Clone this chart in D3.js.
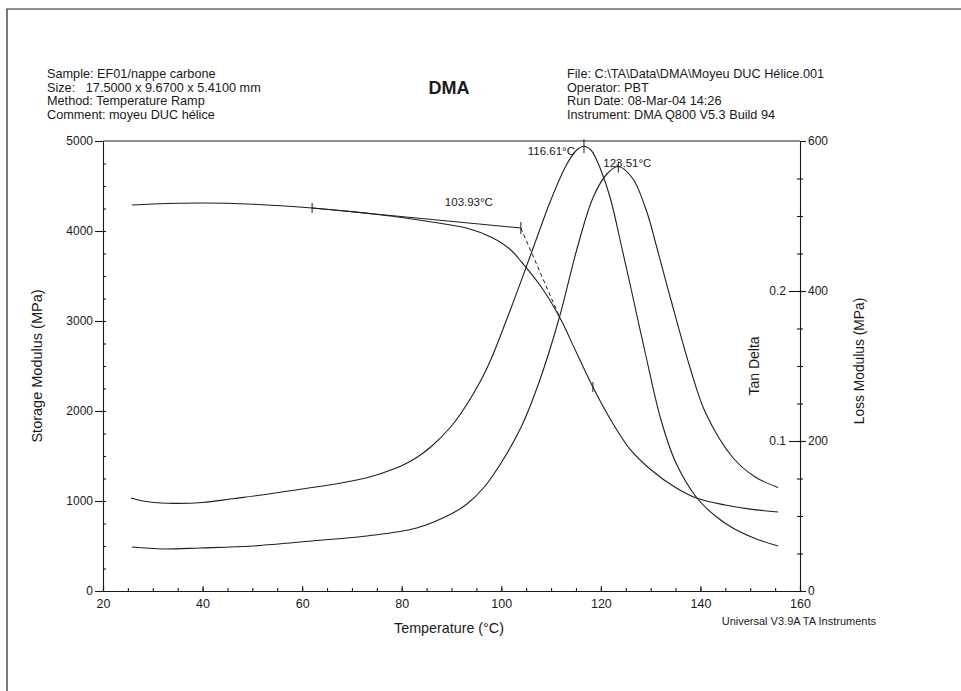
<!DOCTYPE html>
<html>
<head>
<meta charset="utf-8">
<script src="https://cdn.jsdelivr.net/npm/d3@7"></script>
<style>
  body { margin: 0; background: #fff; }
  svg { display: block; }
</style>
</head>
<body>
<div id="plot"></div>
<script>
// Width and height
const w = 961;
const h = 691;
const margin = {top: 141, right: 161, bottom: 100, left: 103};
const innerWidth = w - margin.left - margin.right;
const innerHeight = h - margin.top - margin.bottom;
const font = "Liberation Sans, Arial, sans-serif";
const ink = "#1a1a1a";

// header texts
const headerLeft = [
  "Sample: EF01/nappe carbone",
  "Size:   17.5000 x 9.6700 x 5.4100 mm",
  "Method: Temperature Ramp",
  "Comment: moyeu DUC h\u00e9lice"
];
const headerRight = [
  "File: C:\\TA\\Data\\DMA\\Moyeu DUC H\u00e9lice.001",
  "Operator: PBT",
  "Run Date: 08-Mar-04 14:26",
  "Instrument: DMA Q800 V5.3 Build 94"
];

// tick values
const tempTicks = [20, 40, 60, 80, 100, 120, 140, 160];
const storageTicks = [0, 1000, 2000, 3000, 4000, 5000];
const lossTicks = [0, 200, 400, 600];
const tanTicks = [0.1, 0.2];

// storage modulus (MPa) vs temperature (°C)
const storageT = [25.8, 30, 40, 50, 62, 70, 76, 80, 86, 93, 98, 101.7, 104, 108, 111.8, 115, 118.4, 122, 125.8, 130, 135, 139.3, 145, 150, 155.6];
const storageE = [4289, 4300, 4311, 4298, 4256, 4215, 4178, 4150, 4100, 4033, 3930, 3800, 3660, 3380, 3033, 2660, 2267, 1900, 1580, 1350, 1150, 1030, 955, 910, 878];

// loss modulus (MPa)
const lossT = [25.6, 28, 33, 40, 46, 53, 60, 67, 73, 76, 80, 83, 86, 90, 93, 96, 98, 102, 106, 110, 113, 115, 116.61, 118, 119.2, 121.8, 124.2, 126, 129, 132, 135, 139.3, 143, 146.5, 151, 155.6];
const lossE = [124, 120, 117, 118, 123, 129, 136, 143, 151, 157, 167, 178, 193, 220, 248, 282, 310, 378, 450, 522, 567, 587, 593, 588, 574, 526, 458, 405, 315, 230, 172, 124, 100, 84, 70, 60];

// tan delta
const tanT = [25.8, 32, 39.5, 50, 59.6, 66, 73, 83, 89.7, 93.1, 96.5, 99.7, 103.8, 106, 108.5, 111.8, 115.2, 118.4, 121.2, 123.51, 126.4, 129.3, 131, 134, 137.9, 141, 146.5, 151, 155.6];
const tanD = [0.0293, 0.028, 0.0287, 0.030, 0.0327, 0.0345, 0.0367, 0.042, 0.051, 0.058, 0.069, 0.084, 0.108, 0.125, 0.148, 0.184, 0.228, 0.262, 0.278, 0.283, 0.275, 0.252, 0.232, 0.195, 0.149, 0.119, 0.089, 0.076, 0.069];

// onset analysis on storage modulus
const onsetBase = [[62, 4256], [103.93, 4033]];
const onsetSteep = [[103.93, 4033], [111.8, 3033]];
const storageMarks = [62, 118.4];
const onsetLabel = "103.93\u00b0C";
const lossPeak = [116.61, 593];
const tanPeak = [123.51, 0.283];

// create SVG element
const svg = d3.select("div#plot")
  .append("svg")
    .attr("width", w)
    .attr("height", h)
    .attr("font-family", font);

svg.append("rect")
  .attr("width", w)
  .attr("height", h)
  .attr("fill", "#ffffff");

// page frame (top and left edges of the sheet)
svg.append("path")
  .attr("d", `M7,${h} V9 H${w}`)
  .attr("fill", "none")
  .attr("stroke", "#222")
  .attr("stroke-width", 1.2);

// header
svg.selectAll("text.hl")
  .data(headerLeft)
  .enter()
  .append("text")
    .attr("class", "hl")
    .attr("x", 47)
    .attr("y", (d, i) => 78 + i * 13.6)
    .attr("font-size", 12.7)
    .attr("fill", ink)
    .attr("xml:space", "preserve")
    .style("white-space", "pre")
    .text(d => d);

svg.selectAll("text.hr")
  .data(headerRight)
  .enter()
  .append("text")
    .attr("class", "hr")
    .attr("x", 567)
    .attr("y", (d, i) => 78 + i * 13.6)
    .attr("font-size", 12.7)
    .attr("fill", ink)
    .text(d => d);

svg.append("text")
  .attr("x", 449)
  .attr("y", 94)
  .attr("text-anchor", "middle")
  .attr("font-size", 18)
  .attr("font-weight", "bold")
  .attr("fill", ink)
  .text("DMA");

// scales
const xScale = d3.scaleLinear()
  .domain([20, 160])
  .range([0, innerWidth]);

const yStorage = d3.scaleLinear()
  .domain([0, 5000])
  .range([innerHeight, 0]);

const yLoss = d3.scaleLinear()
  .domain([0, 600])
  .range([innerHeight, 0]);

const yTan = d3.scaleLinear()
  .domain([0, 0.3])
  .range([innerHeight, 0]);

// create plot group
const plot = svg.append("g")
  .attr("id", "plot")
  .attr("transform", `translate(${margin.left},${margin.top})`);

// frame top edge
plot.append("line")
  .attr("x1", 0).attr("x2", innerWidth)
  .attr("y1", 0).attr("y2", 0)
  .attr("stroke", "#222")
  .attr("stroke-width", 1.2);

// x-axis
const xAxis = d3.axisBottom(xScale)
  .tickValues(tempTicks)
  .tickSize(-5)
  .tickPadding(8)
  .tickFormat(d3.format("d"));

plot.append("g")
  .attr("id", "xaxis")
  .attr("transform", `translate(0,${innerHeight})`)
  .call(xAxis)
  .attr("font-size", 12.5);

plot.append("g")
  .attr("class", "minor")
  .attr("transform", `translate(0,${innerHeight})`)
  .call(d3.axisBottom(xScale).tickValues(d3.range(25, 160, 5)).tickSize(-3).tickFormat(""));

// left axis
plot.append("g")
  .attr("id", "yaxis")
  .call(d3.axisLeft(yStorage).tickValues(storageTicks).tickSize(8).tickPadding(2).tickFormat(d3.format("d")))
  .attr("font-size", 12);

plot.append("g")
  .attr("class", "minor")
  .call(d3.axisLeft(yStorage).tickValues(d3.range(250, 5000, 250)).tickSize(-3).tickFormat(""));

// right axes
const right = plot.append("g")
  .attr("transform", `translate(${innerWidth},0)`);

right.append("g")
  .attr("id", "lossaxis")
  .call(d3.axisRight(yLoss).tickValues(lossTicks).tickSize(6).tickPadding(2).tickFormat(d3.format("d")))
  .attr("font-size", 12);

right.append("g")
  .attr("id", "tanaxis")
  .call(d3.axisLeft(yTan).tickValues(tanTicks).tickSize(11).tickPadding(3).tickFormat(d3.format(".1f")))
  .attr("font-size", 12);

right.append("g")
  .attr("class", "minor")
  .call(d3.axisRight(yLoss).tickValues(d3.range(50, 600, 50)).tickSize(3).tickFormat(""));
right.append("g")
  .attr("class", "minor")
  .call(d3.axisLeft(yLoss).tickValues(d3.range(50, 600, 50)).tickSize(3).tickFormat(""));

plot.selectAll("g").attr("font-family", null);
plot.selectAll(".minor .domain").remove();
plot.selectAll(".domain, .tick line")
  .attr("stroke", ink)
  .attr("stroke-width", 1.1);
plot.selectAll("#tanaxis .domain").remove();
plot.selectAll(".tick text")
  .attr("fill", ink);

// curves
const curve = (xs, ys, yS) => d3.line()
  .x((d, i) => xScale(xs[i]))
  .y((d, i) => yS(ys[i]))
  .curve(d3.curveCatmullRom.alpha(0.5))(xs);

plot.append("path")
  .attr("id", "storage")
  .attr("d", curve(storageT, storageE, yStorage))
  .attr("fill", "none")
  .attr("stroke", "#1e1e1e")
  .attr("stroke-width", 1.1);

plot.append("path")
  .attr("id", "loss")
  .attr("d", curve(lossT, lossE, yLoss))
  .attr("fill", "none")
  .attr("stroke", "#1e1e1e")
  .attr("stroke-width", 1.1);

plot.append("path")
  .attr("id", "tandelta")
  .attr("d", curve(tanT, tanD, yTan))
  .attr("fill", "none")
  .attr("stroke", "#1e1e1e")
  .attr("stroke-width", 1.1);

// onset tangents
const seg = d3.line()
  .x(d => xScale(d[0]))
  .y(d => yStorage(d[1]));

plot.append("path")
  .attr("d", seg(onsetBase))
  .attr("fill", "none")
  .attr("stroke", "#1e1e1e")
  .attr("stroke-width", 1);

plot.append("path")
  .attr("d", seg(onsetSteep))
  .attr("fill", "none")
  .attr("stroke", "#1e1e1e")
  .attr("stroke-width", 1)
  .attr("stroke-dasharray", "4,3");

// small vertical markers
const storageAt = d3.scaleLinear().domain(storageT).range(storageE);
plot.selectAll("line.smark")
  .data(storageMarks)
  .enter()
  .append("line")
    .attr("class", "smark")
    .attr("x1", d => xScale(d))
    .attr("x2", d => xScale(d))
    .attr("y1", d => yStorage(storageAt(d)) - 5)
    .attr("y2", d => yStorage(storageAt(d)) + 5)
    .attr("stroke", "#1e1e1e");

plot.append("line")
  .attr("x1", xScale(onsetBase[1][0]))
  .attr("x2", xScale(onsetBase[1][0]))
  .attr("y1", yStorage(onsetBase[1][1]) - 6)
  .attr("y2", yStorage(onsetBase[1][1]) + 6)
  .attr("stroke", "#1e1e1e");

plot.append("line")
  .attr("x1", xScale(lossPeak[0]))
  .attr("x2", xScale(lossPeak[0]))
  .attr("y1", yLoss(lossPeak[1]) - 7)
  .attr("y2", yLoss(lossPeak[1]) + 7)
  .attr("stroke", "#1e1e1e");

plot.append("line")
  .attr("x1", xScale(tanPeak[0]))
  .attr("x2", xScale(tanPeak[0]))
  .attr("y1", yTan(tanPeak[1]) - 5)
  .attr("y2", yTan(tanPeak[1]) + 6)
  .attr("stroke", "#1e1e1e");

// annotations
plot.append("text")
  .attr("x", xScale(onsetBase[1][0]) - 76)
  .attr("y", yStorage(onsetBase[1][1]) - 22)
  .attr("font-size", 11.5)
  .attr("fill", ink)
  .text(onsetLabel);

plot.append("text")
  .attr("x", xScale(lossPeak[0]) - 9)
  .attr("y", yLoss(lossPeak[1]) + 9)
  .attr("text-anchor", "end")
  .attr("font-size", 11.5)
  .attr("fill", ink)
  .text(d3.format(".2f")(lossPeak[0]) + "\u00b0C");

plot.append("text")
  .attr("x", xScale(tanPeak[0]) - 15)
  .attr("y", yTan(tanPeak[1]) + 0)
  .attr("font-size", 11.5)
  .attr("fill", ink)
  .text(d3.format(".2f")(tanPeak[0]) + "\u00b0C");

// axis labels
svg.append("text")
  .attr("transform", "rotate(-90)")
  .attr("x", -366)
  .attr("y", 42)
  .attr("text-anchor", "middle")
  .attr("font-size", 14.5)
  .attr("fill", ink)
  .text("Storage Modulus (MPa)");

svg.append("text")
  .attr("transform", "rotate(-90)")
  .attr("x", -366)
  .attr("y", 759)
  .attr("text-anchor", "middle")
  .attr("font-size", 14)
  .attr("fill", ink)
  .text("Tan Delta");

svg.append("text")
  .attr("transform", "rotate(-90)")
  .attr("x", -361)
  .attr("y", 864)
  .attr("text-anchor", "middle")
  .attr("font-size", 13.8)
  .attr("fill", ink)
  .text("Loss Modulus (MPa)");

svg.append("text")
  .attr("x", 449)
  .attr("y", 633)
  .attr("text-anchor", "middle")
  .attr("font-size", 14.3)
  .attr("fill", ink)
  .text("Temperature (\u00b0C)");

svg.append("text")
  .attr("x", 876)
  .attr("y", 625)
  .attr("text-anchor", "end")
  .attr("font-size", 11)
  .attr("fill", ink)
  .text("Universal V3.9A TA Instruments");
</script>
</body>
</html>
